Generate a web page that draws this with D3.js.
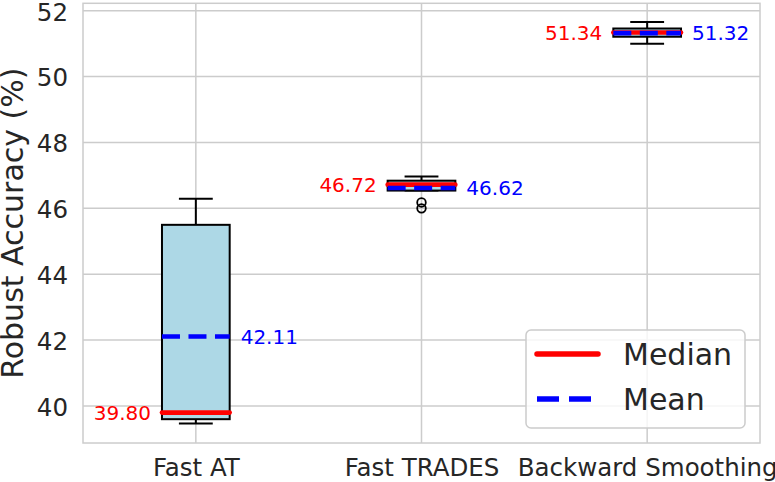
<!DOCTYPE html>
<html>
<head>
<meta charset="utf-8">
<script src="https://cdn.jsdelivr.net/npm/d3@7"></script>
<style>
  html, body { margin: 0; padding: 0; background: #fff; }
  svg { display: block; font-family: "DejaVu Sans", sans-serif; }
</style>
</head>
<body>
<svg id="chart" width="775" height="482"></svg>
<script>
const categories = ["Fast AT", "Fast TRADES", "Backward Smoothing"];
const whiskerLow  = [39.47, 46.54, 51.00];
const q1          = [39.60, 46.54, 51.21];
const medians     = [39.80, 46.72, 51.34];
const q3          = [45.50, 46.84, 51.46];
const whiskerHigh = [46.29, 46.97, 51.66];
const means       = [42.11, 46.62, 51.32];
const outliers    = [[], [46.18, 46.00], []];
const yTicks      = [40, 42, 44, 46, 48, 50, 52];
const medianLabels = ["39.80", "46.72", "51.34"];
const meanLabels   = ["42.11", "46.62", "51.32"];
const legendItems  = ["Median", "Mean"];

const svg = d3.select("#chart");
const L = 83, R = 760, T = 3.3, B = 443;

const x = d3.scalePoint().domain(categories).range([L, R]).padding(0.5);
const y = d3.scaleLinear().domain([38.877, 52.225]).range([B, T]);
const boxW = x.step() * 0.3;
const capW = boxW / 2;
const gridColor = "#cccccc";
const textColor = "#262626";

// grid
svg.append("g").selectAll("line.h").data(yTicks).join("line")
  .attr("x1", L).attr("x2", R)
  .attr("y1", d => y(d)).attr("y2", d => y(d))
  .attr("stroke", gridColor).attr("stroke-width", 1.5);
svg.append("g").selectAll("line.v").data(categories).join("line")
  .attr("x1", d => x(d)).attr("x2", d => x(d))
  .attr("y1", T).attr("y2", B)
  .attr("stroke", gridColor).attr("stroke-width", 1.5);

// spines
svg.append("rect").attr("x", L).attr("y", T).attr("width", R - L).attr("height", B - T)
  .attr("fill", "none").attr("stroke", gridColor).attr("stroke-width", 1.5);

// y axis tick labels
const yAxis = d3.axisLeft(y).tickValues(yTicks).tickSize(0).tickPadding(15).tickFormat(d3.format("d"));
const gy = svg.append("g").attr("transform", `translate(${L},0)`).call(yAxis);
gy.select(".domain").remove();
gy.selectAll("text").attr("font-size", 24.5).attr("fill", textColor)
  .attr("font-family", "DejaVu Sans").attr("dy", "0.38em");

// x axis tick labels
const xAxis = d3.axisBottom(x).tickSize(0).tickPadding(0);
const gx = svg.append("g").attr("transform", `translate(0,${B})`).call(xAxis);
gx.select(".domain").remove();
gx.selectAll("text").attr("font-size", 24.5).attr("fill", textColor)
  .attr("font-family", "DejaVu Sans").attr("y", 33).attr("dy", 0);

// y label
svg.append("text")
  .attr("transform", `translate(23,${(T + B) / 2}) rotate(-90)`)
  .attr("text-anchor", "middle")
  .attr("font-size", 30).attr("fill", textColor)
  .text("Robust Accuracy (%)");

// boxes
const g = svg.append("g");
categories.forEach((c, i) => {
  const cx = x(c);
  // whiskers
  g.append("line").attr("x1", cx).attr("x2", cx).attr("y1", y(q3[i])).attr("y2", y(whiskerHigh[i]))
    .attr("stroke", "black").attr("stroke-width", 2);
  g.append("line").attr("x1", cx).attr("x2", cx).attr("y1", y(q1[i])).attr("y2", y(whiskerLow[i]))
    .attr("stroke", "black").attr("stroke-width", 2);
  // caps
  [whiskerHigh[i], whiskerLow[i]].forEach(v => {
    g.append("line").attr("x1", cx - capW / 2).attr("x2", cx + capW / 2)
      .attr("y1", y(v)).attr("y2", y(v)).attr("stroke", "black").attr("stroke-width", 2);
  });
  // box
  g.append("rect").attr("x", cx - boxW / 2).attr("width", boxW)
    .attr("y", y(q3[i])).attr("height", y(q1[i]) - y(q3[i]))
    .attr("fill", "#add8e6").attr("stroke", "black").attr("stroke-width", 2);
  // median
  g.append("line").attr("x1", cx - boxW / 2).attr("x2", cx + boxW / 2)
    .attr("y1", y(medians[i])).attr("y2", y(medians[i]))
    .attr("stroke", "red").attr("stroke-width", 4.6).attr("stroke-linecap", "round");
  // mean
  g.append("line").attr("x1", cx - boxW / 2).attr("x2", cx + boxW / 2)
    .attr("y1", y(means[i])).attr("y2", y(means[i]))
    .attr("stroke", "blue").attr("stroke-width", 4.6).attr("stroke-dasharray", "18,8.5");
  // outliers
  outliers[i].forEach(v => {
    g.append("circle").attr("cx", cx).attr("cy", y(v)).attr("r", 4.3)
      .attr("fill", "none").attr("stroke", "black").attr("stroke-width", 1.8);
  });
  // annotations
  g.append("text").attr("x", cx - boxW / 2 - 11).attr("y", y(medians[i])).attr("dy", "0.36em")
    .attr("text-anchor", "end").attr("font-size", 20).attr("fill", "red").text(medianLabels[i]);
  g.append("text").attr("x", cx + boxW / 2 + 11).attr("y", y(means[i])).attr("dy", "0.36em")
    .attr("text-anchor", "start").attr("font-size", 20).attr("fill", "blue").text(meanLabels[i]);
});

// legend
const lg = svg.append("g");
lg.append("rect").attr("x", 526).attr("y", 330).attr("width", 219).attr("height", 98).attr("rx", 5)
  .attr("fill", "white").attr("fill-opacity", 0.8).attr("stroke", gridColor).attr("stroke-width", 1.5);
lg.append("line").attr("x1", 537).attr("x2", 598).attr("y1", 354).attr("y2", 354)
  .attr("stroke", "red").attr("stroke-width", 5.5).attr("stroke-linecap", "round");
lg.append("line").attr("x1", 537).attr("x2", 598).attr("y1", 399).attr("y2", 399)
  .attr("stroke", "blue").attr("stroke-width", 5.5).attr("stroke-dasharray", "22,10");
lg.selectAll("text.leg").data(legendItems).join("text")
  .attr("x", 623).attr("y", (d, i) => [354, 399][i]).attr("dy", "0.36em")
  .attr("font-size", 30).attr("fill", textColor).text(d => d);
</script>
</body>
</html>
